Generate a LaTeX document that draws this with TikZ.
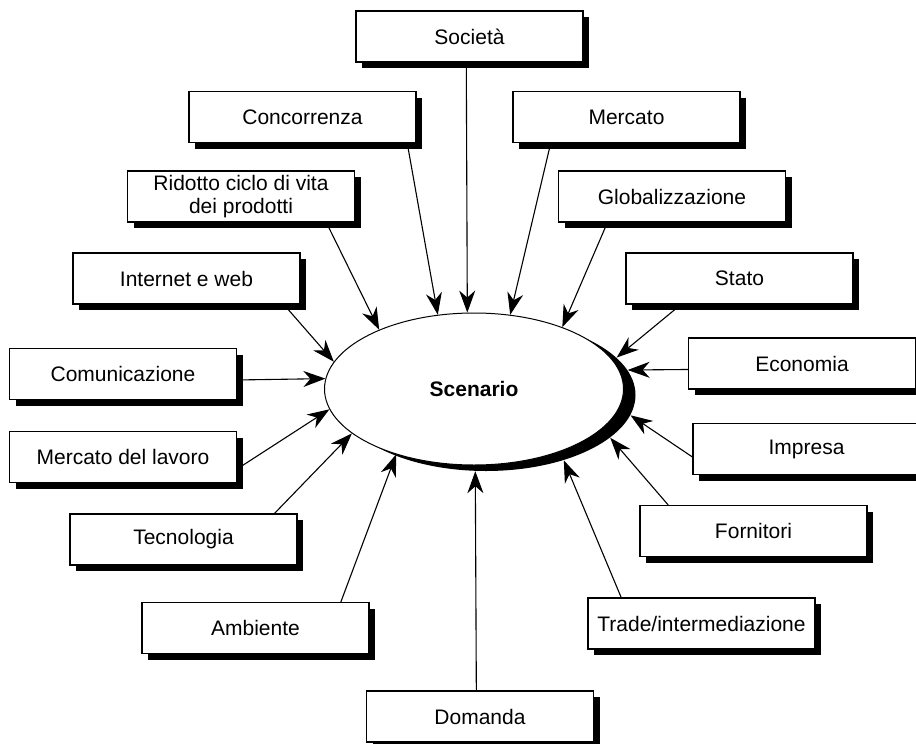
\documentclass[tikz,border=0pt]{standalone}
\usepackage{fontspec}
\setmainfont{Liberation Sans}
\usetikzlibrary{arrows.meta,shapes.geometric,shadows}
\tikzset{ box/.style={ draw, line width=0.6pt, fill=white, minimum width=113.5pt, minimum height=25.5pt, inner sep=0pt, align=center, font=\fontsize{10.5}{11.5}\selectfont, general shadow={shadow xshift=3pt, shadow yshift=-3pt, fill=black} } }
\tikzset{ arr/.style={ line width=0.55pt, -{Stealth[length=11pt,width=8pt,inset=3.5pt]} } }
\tikzset{ oval/.style={ ellipse, minimum width=149.5pt, minimum height=76pt, inner sep=0pt } }

\begin{document}
\begin{tikzpicture}[x=0.5pt,y=-0.5pt]
	\useasboundingbox (0,0) rectangle (916,744);
	%\draw[thick,dotted] (0,0) rectangle (916,744);
	\node[oval,fill=black] (Scs) at (486,395) {};
	\node[oval,draw,line width=0.5pt,fill=white,font=\bfseries\fontsize{10.5}{12}\selectfont] (Sc) at (474,389) {Scenario};

	\node[box] (Soc) at (469.5,36.5) {Società};
	\node[box] (Conc) at (302.5,117) {Concorrenza};
	\node[box] (Merc) at (626.5,117) {Mercato};
	\node[box] (Rid) at (241,196.5) {Ridotto ciclo di vita\\dei prodotti};
	\node[box] (Glob) at (672,196.5) {Globalizzazione};
	\node[box] (Int) at (186.5,278.5) {Internet e web};
	\node[box] (Stato) at (739.5,278.5) {Stato};
	\node[box] (Com) at (123,374) {Comunicazione};
	\node[box] (Eco) at (802,363.5) {Economia};
	\node[box] (Lav) at (123,457) {Mercato del lavoro};
	\node[box] (Imp) at (806.5,449) {Impresa};
	\node[box] (Tec) at (183.5,539.5) {Tecnologia};
	\node[box] (Forn) at (753.5,531) {Fornitori};
	\node[box] (Amb) at (255.5,628) {Ambiente};
	\node[box] (Trade) at (701.5,623.5) {Trade/intermediazione};
	\node[box] (Dom) at (480,716.5) {Domanda};

	% upper and left side, to the ellipse
	\draw [arr] (Soc.-97.8) -- (Sc.95.3);
	\draw [arr] (Conc.-14.4) -- (Sc.116.6);
	\draw [arr] (Merc.-161.5) -- (Sc.64.1);
	\draw [arr] (Rid.-17.9) -- (Sc.148.2);
	\draw [arr] (Glob.-158.6) -- (Sc.35.3);
	\draw [arr] (Int.-15.6) -- (Sc.169.6);
	\draw [arr] (Com.-3.5) -- (Sc.176.9);
	\draw [arr] (Lav.-6) -- (Sc.-172.2);
	\draw [arr] (Tec.16.4) -- (Sc.-160.3);
	\draw [arr] (Amb.17.1) -- (Sc.-140.6);
	% right side, to the shadow
	\draw [arr] (Stato.-156.1) -- (Scs.16.1);
	\draw [arr] (Eco.-177.2) -- (Scs.10.4);
	\draw [arr] (Imp.-176) -- (Scs.-8.2);
	\draw [arr] (Forn.163.5) -- (Scs.-19.9);
	\draw [arr] (Trade.162.6) -- (Scs.-40.3);
	\draw [arr] (Dom.98.9) -- (Scs.-98);
\end{tikzpicture}
\end{document}
